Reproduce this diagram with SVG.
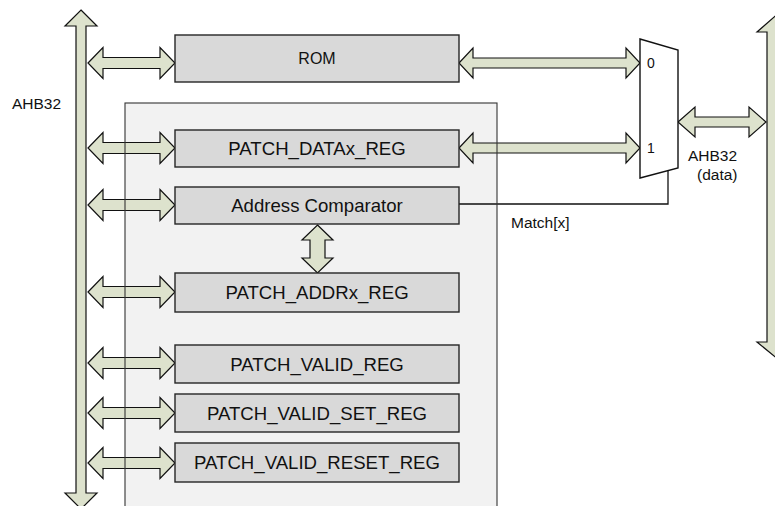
<svg xmlns="http://www.w3.org/2000/svg" width="775" height="506" viewBox="0 0 775 506">
<style>
.box{fill:#d9d9d9;stroke:#262626;stroke-width:1.4}
.arr{fill:#dde2cd;stroke:#111;stroke-width:1.2;stroke-linejoin:miter}
.t{font-family:"Liberation Sans",Arial,sans-serif;fill:#111}
.bt{font-size:18.6px;text-anchor:middle}
.lbl{font-size:15.5px}
.wire{fill:none;stroke:#111;stroke-width:1.3}
</style>
<rect width="775" height="506" fill="#fff"/>
<g id="patch-unit">
<rect x="125" y="103" width="372" height="410" fill="#f2f2f2"/>
</g>
<g id="connectors">
<!-- left bus -->
<polygon class="arr" points="81,10 97,26 86,26 86,493 97,493 81,509 65,493 76,493 76,26 65,26"/>
<!-- right bus -->
<polygon class="arr" points="776.5,15 796,32 786,32 786,342 796,342 776.5,358 757,342 767,342 767,32 757,32"/>
<!-- left bus to registers -->
<polygon class="arr" points="88,63 103,47.5 103,57.5 160,57.5 160,47.5 175,63 160,78.5 160,68.5 103,68.5 103,78.5"/>
<polygon class="arr" points="88,148 103,132.5 103,142.5 160,142.5 160,132.5 175,148 160,163.5 160,153.5 103,153.5 103,163.5"/>
<polygon class="arr" points="88,205 103,189.5 103,199.5 160,199.5 160,189.5 175,205 160,220.5 160,210.5 103,210.5 103,220.5"/>
<polygon class="arr" points="88,292 103,276.5 103,286.5 160,286.5 160,276.5 175,292 160,307.5 160,297.5 103,297.5 103,307.5"/>
<polygon class="arr" points="88,363 103,347.5 103,357.5 160,357.5 160,347.5 175,363 160,378.5 160,368.5 103,368.5 103,378.5"/>
<polygon class="arr" points="88,413 103,397.5 103,407.5 160,407.5 160,397.5 175,413 160,428.5 160,418.5 103,418.5 103,428.5"/>
<polygon class="arr" points="88,463 103,447.5 103,457.5 160,457.5 160,447.5 175,463 160,478.5 160,468.5 103,468.5 103,478.5"/>
<!-- comparator <-> addr reg -->
<polygon class="arr" points="317.5,225 333,240 325,240 325,258 333,258 317.5,273 302,258 310,258 310,240 302,240"/>
<!-- to mux -->
<polygon class="arr" points="459,63 473,48 473,58 626,58 626,48 640,63 626,78 626,68 473,68 473,78"/>
<polygon class="arr" points="459,148 473,133 473,143 626,143 626,133 640,148 626,163 626,153 473,153 473,163"/>
<!-- mux out -->
<polygon class="arr" points="678,122 695,107 695,117 749,117 749,107 766,122 749,137 749,127 695,127 695,137"/>
<!-- match line -->
<path class="wire" d="M459,204 H668 V171"/>
</g>
<rect x="125" y="103" width="372" height="410" fill="none" stroke="#333" stroke-width="1.1"/>
<g id="rom"><rect class="box" x="175" y="35" width="284" height="47"/><text class="t" x="317" y="64" font-size="16" text-anchor="middle">ROM</text></g>
<g id="patch-data"><rect class="box" x="175" y="130" width="284" height="37"/><text class="t bt" x="317" y="155">PATCH_DATAx_REG</text></g>
<g id="addr-comp"><rect class="box" x="175" y="187" width="284" height="37"/><text class="t bt" x="317" y="212">Address Comparator</text></g>
<g id="patch-addr"><rect class="box" x="175" y="273" width="284" height="39"/><text class="t bt" x="317" y="299">PATCH_ADDRx_REG</text></g>
<g id="patch-valid"><rect class="box" x="175" y="345" width="284" height="38"/><text class="t bt" x="317" y="370.5">PATCH_VALID_REG</text></g>
<g id="patch-valid-set"><rect class="box" x="175" y="394" width="284" height="38"/><text class="t bt" x="317" y="419.5">PATCH_VALID_SET_REG</text></g>
<g id="patch-valid-reset"><rect class="box" x="175" y="443" width="284" height="39"/><text class="t bt" x="317" y="469">PATCH_VALID_RESET_REG</text></g>
<g id="mux"><polygon points="640,39 678,50 678,168 640,178" fill="#fff" stroke="#111" stroke-width="1.4"/>
<text class="t" x="647" y="68" font-size="14">0</text><text class="t" x="647" y="153" font-size="14">1</text></g>
<text class="t lbl" x="12" y="109">AHB32</text>
<text class="t lbl" x="688" y="161">AHB32</text>
<text class="t lbl" x="697" y="180">(data)</text>
<text class="t lbl" x="511" y="228">Match[x]</text>
</svg>
